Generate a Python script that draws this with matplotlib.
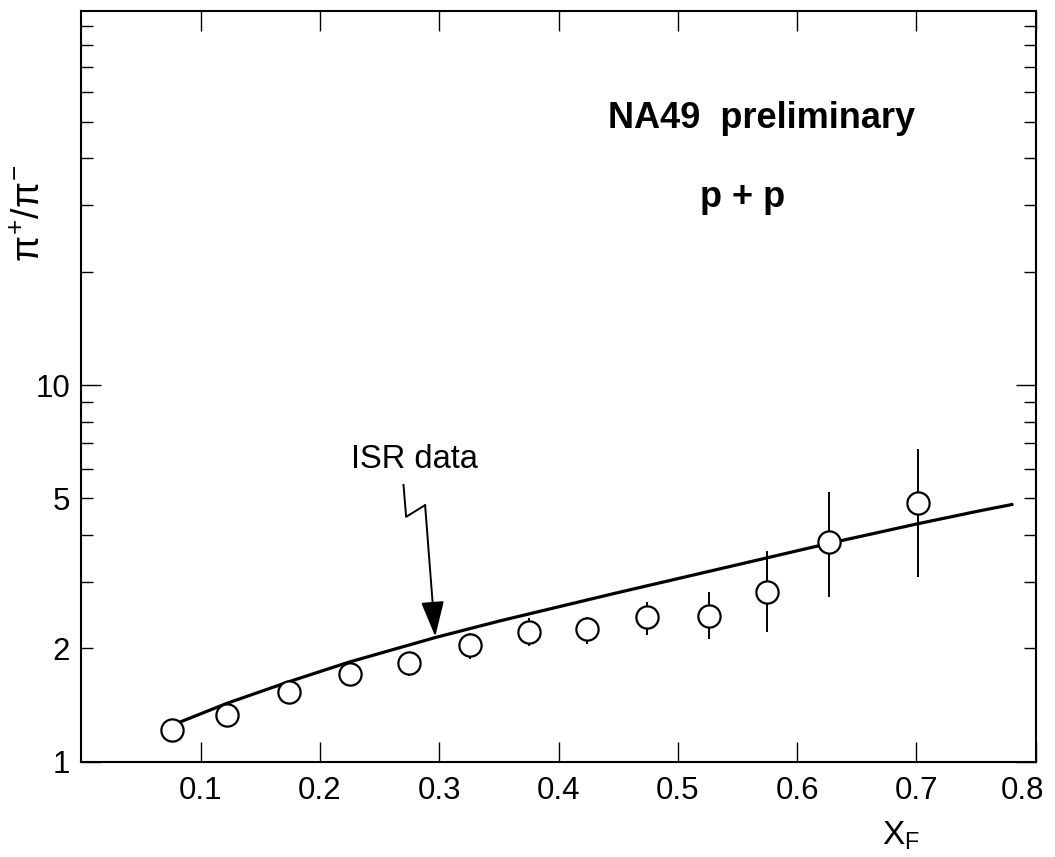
import matplotlib
matplotlib.use("Agg")
import matplotlib.pyplot as plt
import matplotlib.transforms as mtransforms
from matplotlib.ticker import FixedLocator, FixedFormatter

plt.rcParams['font.family'] = ['Liberation Sans', 'DejaVu Sans']
plt.rcParams['mathtext.fontset'] = 'custom'
plt.rcParams['mathtext.rm'] = 'Liberation Sans'
plt.rcParams['mathtext.it'] = 'Liberation Sans'
plt.rcParams['mathtext.bf'] = 'Liberation Sans:bold'

# NA49 preliminary data points
xf = [0.076, 0.122, 0.174, 0.225, 0.275, 0.326, 0.375, 0.424, 0.474, 0.526, 0.575, 0.627, 0.701]
ratio = [1.214, 1.330, 1.528, 1.706, 1.824, 2.041, 2.214, 2.25, 2.427, 2.437, 2.817, 3.83, 4.87]
err_lo = [0.0, 0.0, 0.0, 0.0, 0.14, 0.17, 0.186, 0.198, 0.257, 0.324, 0.603, 1.09, 1.77]
err_hi = [0.0, 0.0, 0.0, 0.0, 0.135, 0.151, 0.19, 0.176, 0.234, 0.39, 0.82, 1.36, 1.89]

# ISR data curve
isr_x = [0.082, 0.122, 0.174, 0.224, 0.297, 0.351, 0.446, 0.563, 0.627, 0.701, 0.753, 0.780]
isr_y = [1.272, 1.429, 1.631, 1.837, 2.138, 2.366, 2.794, 3.409, 3.802, 4.283, 4.636, 4.818]

# annotation arrow path (ISR data label)
arrow_x = [0.270, 0.2722, 0.2881, 0.2966]
arrow_y = [5.43, 4.47, 4.80, 2.15]

xticks = [0.1, 0.2, 0.3, 0.4, 0.5, 0.6, 0.7, 0.8]
xticklabels = ['0.1', '0.2', '0.3', '0.4', '0.5', '0.6', '0.7', '0.8']
ymajor = [1, 10, 100]
ymajor_labels = ['1', '10', '']
yminor = [2, 3, 4, 5, 6, 7, 8, 9, 20, 30, 40, 50, 60, 70, 80, 90]
yminor_labels = ['2', '', '', '5', '', '', '', '', '', '', '', '', '', '', '', '']

fig = plt.figure(figsize=(10.55, 8.57), dpi=100)
ax = fig.add_axes([0.0772, 0.1112, 0.9045, 0.876])

ax.plot(isr_x, isr_y, color='black', lw=2.3, zorder=2, solid_joinstyle='round')
ax.errorbar(xf, ratio, yerr=[err_lo, err_hi], fmt='o', ms=16, mfc='white',
            mec='black', mew=1.6, ecolor='black', elinewidth=1.4, capsize=0, zorder=3)

ax.set_yscale('log')
ax.set_xlim(0, 0.8)
ax.set_ylim(1, 98.5)

ax.xaxis.set_major_locator(FixedLocator(xticks))
ax.xaxis.set_major_formatter(FixedFormatter(xticklabels))
ax.yaxis.set_major_locator(FixedLocator(ymajor))
ax.yaxis.set_major_formatter(FixedFormatter(ymajor_labels))
ax.yaxis.set_minor_locator(FixedLocator(yminor))
ax.yaxis.set_minor_formatter(FixedFormatter(yminor_labels))

ax.tick_params(axis='both', which='major', direction='in', length=14.5, width=1.0,
               labelsize=22.5, top=True, right=True, color='black')
ax.tick_params(axis='y', which='minor', direction='in', length=8.6, width=1.0,
               labelsize=22.5, left=True, right=True)
ax.tick_params(axis='x', which='major', pad=10)
ax.tick_params(axis='y', which='both', pad=8)
for s in ax.spines.values():
    s.set_linewidth(1.5)

# shift last x tick label left so it stays inside the figure
last = ax.get_xticklabels()[-1]
last.set_transform(last.get_transform() +
                   mtransforms.ScaledTranslation(-13 / 100, 0, fig.dpi_scale_trans))

# arrow
ax.plot(arrow_x[:3], arrow_y[:3], color='black', lw=1.4, zorder=2)
ax.annotate('', xy=(arrow_x[3], arrow_y[3]), xytext=(arrow_x[2], arrow_y[2]),
            arrowprops=dict(arrowstyle='-|>,head_length=1.1,head_width=0.36',
                            mutation_scale=20, color='black', lw=1.4,
                            shrinkA=0, shrinkB=0))

ax.text(0.3485, 0.3908, 'ISR data', transform=ax.transAxes, ha='center',
        va='baseline', fontsize=23.5)
ax.text(0.7129, 0.844, 'NA49  preliminary', transform=ax.transAxes, ha='center',
        va='baseline', fontsize=26, fontweight='bold')
ax.text(0.6933, 0.7393, 'p + p', transform=ax.transAxes, ha='center',
        va='baseline', fontsize=26, fontweight='bold')

fig.text(0.0284, 0.7515, r'$\pi^{+}/\pi^{-}$', rotation=90, ha='center',
         va='center', fontsize=27)
fig.text(0.8536, 0.0245, r'$\mathrm{X_F}$', ha='center', va='center', fontsize=24)

fig.savefig('out.png', dpi=100)
